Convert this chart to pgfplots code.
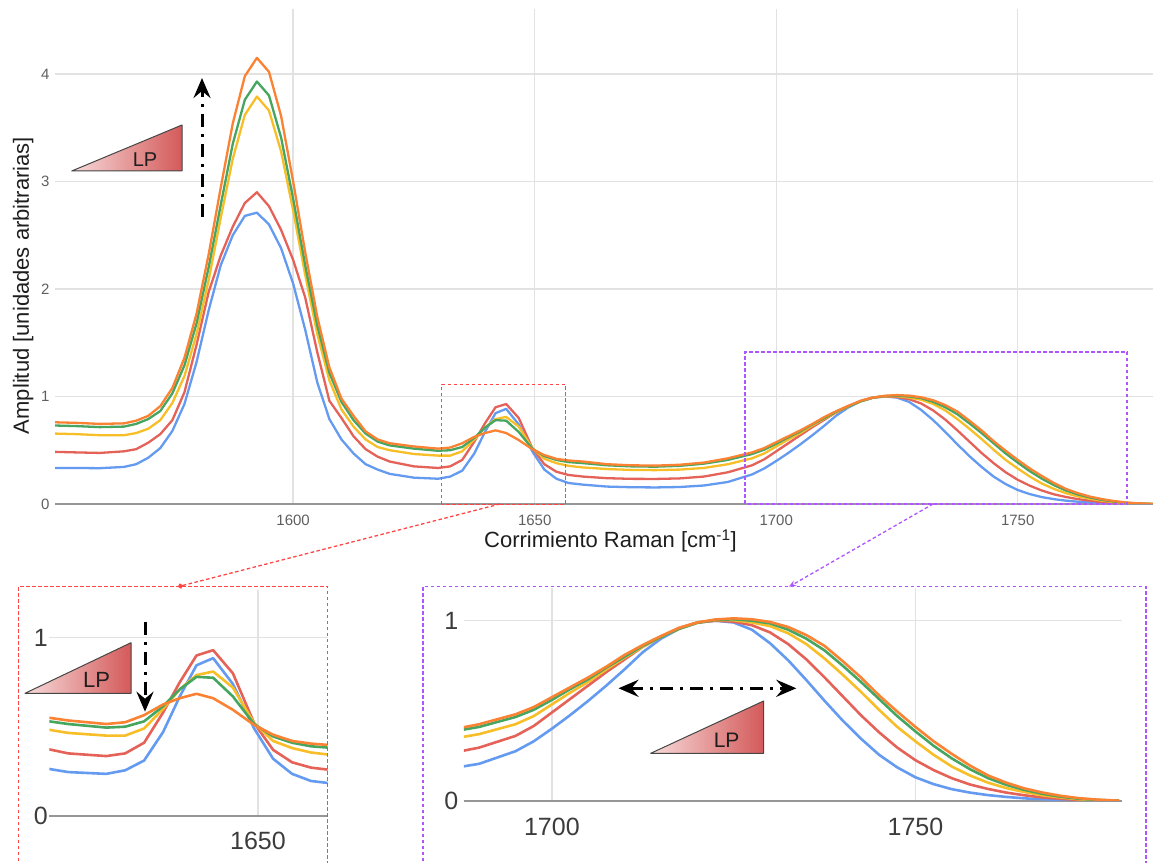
\documentclass[border=0pt]{standalone}
\usepackage{fontspec}
\setmainfont{Liberation Sans}
\usepackage{pgfplots}
\pgfplotsset{compat=1.18}
\usepackage{pgfplotstable}
\usetikzlibrary{arrows.meta}

\definecolor{cBlue}{RGB}{100,155,240}
\definecolor{cRed}{RGB}{228,98,88}
\definecolor{cYel}{RGB}{248,190,40}
\definecolor{cGrn}{RGB}{70,165,95}
\definecolor{cOra}{RGB}{250,130,50}
\definecolor{gridgray}{RGB}{226,226,226}
\definecolor{axisgray}{RGB}{150,150,150}
\definecolor{tickgray}{RGB}{95,95,95}
\definecolor{insettick}{RGB}{60,60,60}
\definecolor{labeltext}{RGB}{30,30,30}
\definecolor{frameRed}{RGB}{255,70,70}
\definecolor{framePur}{RGB}{175,85,255}
\definecolor{lpLight}{RGB}{247,218,218}
\definecolor{lpDark}{RGB}{212,90,90}
\definecolor{lpBorder}{RGB}{70,70,70}

\pgfplotstableread{
wn blu red yel grn ora
1550.7 0.335 0.485 0.655 0.730 0.760
1555 0.335 0.480 0.650 0.725 0.755
1560 0.333 0.475 0.640 0.715 0.745
1565 0.345 0.490 0.640 0.720 0.750
1567.5 0.370 0.510 0.660 0.745 0.775
1570 0.430 0.570 0.700 0.790 0.820
1572.5 0.520 0.650 0.780 0.865 0.910
1575 0.680 0.780 0.940 1.030 1.080
1577.5 0.930 1.040 1.190 1.290 1.360
1580 1.320 1.480 1.580 1.680 1.770
1582.5 1.800 1.970 2.080 2.200 2.320
1585 2.220 2.310 2.660 2.780 2.940
1587.5 2.500 2.580 3.210 3.350 3.540
1590 2.680 2.800 3.620 3.760 3.980
1592.5 2.710 2.900 3.790 3.930 4.150
1595 2.600 2.770 3.660 3.800 4.020
1597.5 2.380 2.550 3.280 3.410 3.610
1600 2.050 2.270 2.730 2.840 3.000
1602.5 1.620 1.920 2.130 2.220 2.340
1605 1.130 1.410 1.580 1.660 1.740
1607.5 0.790 0.960 1.150 1.220 1.270
1610 0.600 0.800 0.880 0.950 0.980
1612.5 0.470 0.630 0.720 0.780 0.820
1615 0.370 0.510 0.600 0.655 0.675
1617.5 0.320 0.440 0.530 0.580 0.600
1620 0.280 0.395 0.500 0.545 0.565
1625 0.245 0.350 0.465 0.515 0.535
1630 0.235 0.335 0.450 0.495 0.515
1632.5 0.255 0.350 0.450 0.500 0.525
1635 0.310 0.410 0.490 0.530 0.565
1637.5 0.470 0.580 0.600 0.615 0.625
1639.7 0.670 0.750 0.710 0.710 0.660
1641.9 0.845 0.900 0.790 0.780 0.685
1644.1 0.885 0.930 0.810 0.775 0.660
1646.7 0.740 0.800 0.720 0.670 0.595
1649.5 0.490 0.520 0.520 0.515 0.510
1652 0.320 0.370 0.420 0.445 0.455
1654.5 0.235 0.300 0.380 0.410 0.420
1657 0.195 0.270 0.355 0.390 0.405
1660 0.180 0.255 0.340 0.380 0.395
1665 0.162 0.240 0.325 0.360 0.370
1670 0.156 0.234 0.317 0.350 0.360
1675 0.154 0.233 0.315 0.347 0.357
1680 0.158 0.238 0.320 0.355 0.365
1685 0.172 0.255 0.335 0.375 0.385
1690 0.205 0.295 0.370 0.410 0.425
1695 0.275 0.360 0.425 0.465 0.480
1697.5 0.330 0.415 0.470 0.505 0.520
1700 0.400 0.490 0.535 0.560 0.575
1702.5 0.475 0.565 0.600 0.620 0.630
1705 0.555 0.640 0.660 0.675 0.685
1707.5 0.640 0.715 0.730 0.740 0.745
1710 0.730 0.785 0.795 0.800 0.810
1712.5 0.825 0.855 0.855 0.860 0.865
1715 0.900 0.910 0.910 0.910 0.915
1717.5 0.955 0.960 0.955 0.955 0.960
1720 0.990 0.990 0.990 0.988 0.990
1722.5 1.000 1.000 1.003 1.004 1.007
1725 0.990 0.995 1.003 1.008 1.013
1727.5 0.950 0.975 0.990 1.000 1.008
1730 0.875 0.935 0.970 0.985 0.993
1732.5 0.780 0.870 0.930 0.950 0.965
1735 0.670 0.785 0.870 0.900 0.920
1737.5 0.555 0.685 0.790 0.835 0.860
1740 0.445 0.580 0.700 0.750 0.775
1742.5 0.345 0.475 0.605 0.660 0.685
1745 0.255 0.380 0.505 0.565 0.585
1747.5 0.185 0.295 0.410 0.470 0.495
1750 0.130 0.225 0.330 0.385 0.410
1752.5 0.092 0.170 0.255 0.305 0.330
1755 0.064 0.125 0.190 0.235 0.260
1757.5 0.045 0.090 0.140 0.175 0.195
1760 0.031 0.065 0.100 0.125 0.140
1762.5 0.021 0.045 0.070 0.088 0.100
1765 0.013 0.030 0.048 0.060 0.068
1767.5 0.008 0.018 0.030 0.038 0.045
1770 0.004 0.010 0.018 0.022 0.027
1772.5 0.002 0.005 0.008 0.011 0.014
1775 0.001 0.002 0.003 0.004 0.006
1778 0.000 0.000 0.000 0.000 0.000
}\spectra

\pgfplotsset{
  base/.style={
    scale only axis, anchor=south west,
    axis line style={draw=none},
    major tick length=0pt,
    xmajorgrids, ymajorgrids,
    grid style={draw=gridgray, line width=1.4pt},
    scaled ticks=false,
    /pgf/number format/assume math mode=true,
    /pgf/number format/1000 sep={},
    extra y ticks={0}, extra y tick labels={},
    extra y tick style={grid style={draw=axisgray, line width=2.2pt}},
  },
}
\tikzset{
  lparrow/.style={black, line width=3pt, dash pattern=on 13pt off 7pt on 3pt off 7pt},
  bigtip/.tip={Stealth[length=20pt,width=17pt,inset=7pt]},
  framedash/.style={line width=1.3pt, dash pattern=on 3.5pt off 2.5pt},
}
\newcommand{\allplots}[1]{%
  \addplot[color=cBlue, line width=#1, line join=round] table[x=wn,y=blu]{\spectra};
  \addplot[color=cRed, line width=#1, line join=round] table[x=wn,y=red]{\spectra};
  \addplot[color=cYel, line width=#1, line join=round] table[x=wn,y=yel]{\spectra};
  \addplot[color=cGrn, line width=#1, line join=round] table[x=wn,y=grn]{\spectra};
  \addplot[color=cOra, line width=#1, line join=round] table[x=wn,y=ora]{\spectra};
}

\begin{document}
\begin{tikzpicture}[x=1pt,y=1pt]
\useasboundingbox (0,0) rectangle (1153,862);

% ---------- main axis ----------
\begin{axis}[base,
  at={(55pt,358pt)}, width=1098pt, height=494.5pt,
  xmin=1550.7, xmax=1778, ymin=0, ymax=4.6,
  xtick={1600,1650,1700,1750}, ytick={0,1,2,3,4},
  ticklabel style={font=\fontsize{15}{18}\selectfont, text=tickgray},
  xticklabel style={yshift=-7pt},
  yticklabel style={xshift=-2pt},
]
\allplots{2.3pt}
\end{axis}

% ---------- left inset ----------
\begin{axis}[base,
  at={(49.3pt,46.3pt)}, width=278.4pt, height=225.7pt,
  xmin=1622.5, xmax=1659.2, ymin=0, ymax=1.268,
  xtick={1650}, ytick={0,1},
  ticklabel style={font=\fontsize{25}{30}\selectfont, text=insettick},
  xticklabel style={yshift=-12.4pt},
  yticklabel style={xshift=2pt},
]
\allplots{2.6pt}
\end{axis}

% ---------- right inset ----------
\begin{axis}[base,
  at={(463.9pt,61.3pt)}, width=658pt, height=212.7pt,
  xmin=1687.9, xmax=1778.4, ymin=0, ymax=1.1817,
  xtick={1700,1750}, ytick={0,1},
  ticklabel style={font=\fontsize{25}{30}\selectfont, text=insettick},
  xticklabel style={yshift=-13.7pt},
  yticklabel style={xshift=-2pt},
]
\allplots{2.6pt}
\end{axis}

% ---------- axis titles ----------
\node[anchor=base, font=\fontsize{22}{26}\selectfont, text=labeltext] at (610.5,314.3) {Corrimiento Raman [cm\textsuperscript{-1}]};
\node[rotate=90, font=\fontsize{22}{26}\selectfont, text=labeltext] at (23.3,576.5) {Amplitud [unidades arbitrarias]};

% ---------- zoom boxes and frames ----------
\draw[frameRed, framedash] (441.7,357.7) rectangle (565.7,477.7);
\draw[framePur, framedash] (745,358) rectangle (1127,510);
\draw[frameRed, framedash] (18.3,-5) -- (18.3,275.3) -- (327.7,275.3) -- (327.7,-5);
\draw[framePur, framedash] (423,-5) -- (423,275.3) -- (1146,275.3) -- (1146,-5);
\draw[frameRed, framedash, -{Circle[length=5pt]}] (500,358) -- (178,275.3);
\draw[framePur, framedash, -{Stealth[length=7pt,width=6pt]}] (933,358) -- (789,275.3);

% ---------- LP triangles ----------
\shade[left color=lpLight, right color=lpDark] (71.7,691) -- (182,691) -- (182,737) -- cycle;
\draw[lpBorder, line width=1pt, line join=round] (71.7,691) -- (182,691) -- (182,737) -- cycle;
\node[font=\fontsize{20}{20}\selectfont, text=labeltext] at (145,702) {LP};

\shade[left color=lpLight, right color=lpDark] (25,168.7) -- (131,168.7) -- (131,219.3) -- cycle;
\draw[lpBorder, line width=1pt, line join=round] (25,168.7) -- (131,168.7) -- (131,219.3) -- cycle;
\node[font=\fontsize{22}{22}\selectfont, text=labeltext] at (96.7,182) {LP};

\shade[left color=lpLight, right color=lpDark] (650.7,108.7) -- (763.6,108.7) -- (763.6,161) -- cycle;
\draw[lpBorder, line width=1pt, line join=round] (650.7,108.7) -- (763.6,108.7) -- (763.6,161) -- cycle;
\node[font=\fontsize{21}{21}\selectfont, text=labeltext] at (726.6,122) {LP};

% ---------- arrows ----------
\draw[lparrow, -bigtip] (202,645.3) -- (202,784);
\draw[lparrow, -bigtip] (145,240.3) -- (145,150.3);
\draw[lparrow, bigtip-bigtip] (618.5,173.7) -- (796.3,173.7);
\end{tikzpicture}
\end{document}
